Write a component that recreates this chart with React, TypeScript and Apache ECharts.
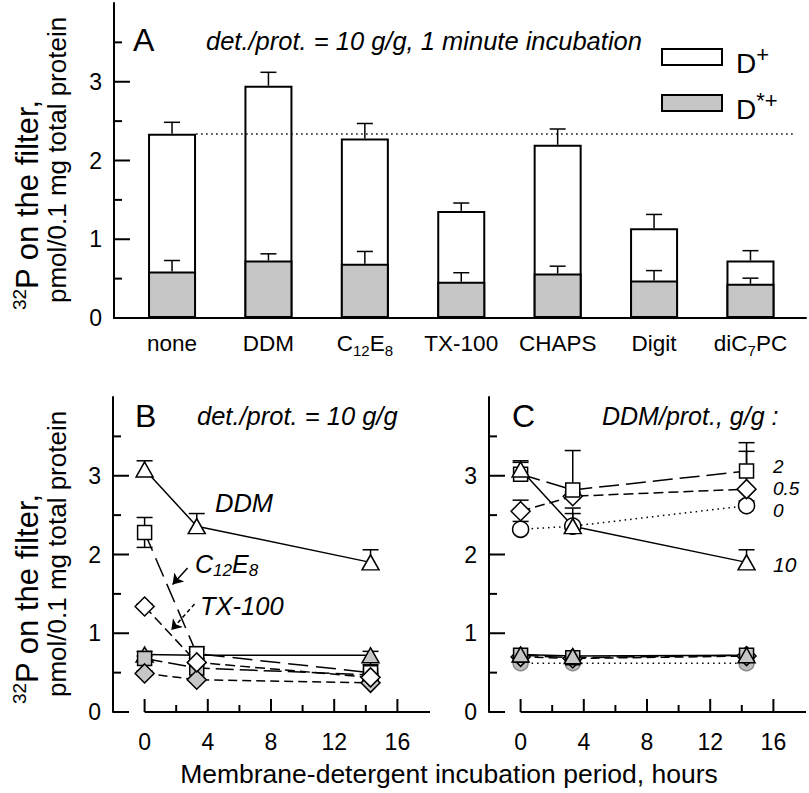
import React, { useEffect, useRef } from "react";
import * as echarts from "echarts";

const FONT = '"Liberation Sans", Arial, Helvetica, sans-serif';

// ---------- Panel A data ----------
const categories = ["none", "DDM", "C12E8", "TX-100", "CHAPS", "Digit", "diC7PC"];
const categoryLabels = ["{n|none}", "{n|DDM}", "{n|C}{s|12}{n|E}{s|8}", "{n|TX-100}", "{n|CHAPS}", "{n|Digit}", "{n|diC}{s|7}{n|PC}"];
const dPlusTotal = [2.34, 2.95, 2.28, 1.36, 2.2, 1.14, 0.73];
const dPlusErr = [0.145, 0.17, 0.19, 0.1, 0.2, 0.175, 0.125];
const dStarPlus = [0.59, 0.73, 0.69, 0.46, 0.565, 0.475, 0.435];
const dStarPlusErr = [0.14, 0.085, 0.155, 0.115, 0.093, 0.127, 0.071];
const referenceLevel = 2.34;

// ---------- Axis ticks ----------
const yTicks = [0, 1, 2, 3];
const yMinorTicks = [0.5, 1.5, 2.5, 3.5];
const xTicks = [0, 4, 8, 12, 16];
const xMinorTicks = [2, 6, 10, 14];

// ---------- Panels B and C ----------
const hours = [0, 3.3, 14.3];

// Panel B (det./prot. = 10 g/g)
const bDDM = [3.08, 2.36, 1.9];
const bDDMErr = [0.11, 0.16, 0.16];
const bC12E8 = [2.28, 0.74, 0.5];
const bC12E8Err = [0.19, 0.09, 0.1];
const bTX100 = [1.34, 0.63, 0.44];
const bTX100Err = [0.03, 0.05, 0.05];
const bDDMStar = [0.73, 0.72, 0.72];
const bDDMStarErr = [0.04, 0.08, 0.05];
const bC12E8Star = [0.68, 0.56, 0.47];
const bC12E8StarErr = [0.03, 0.06, 0.17];
const bTX100Star = [0.49, 0.41, 0.37];
const bTX100StarErr = [0.03, 0.03, 0.03];

// Panel C (DDM/prot., g/g)
const c10 = [3.08, 2.36, 1.9];
const c10Err = [0.11, 0.16, 0.16];
const c2 = [3.02, 2.82, 3.06];
const c2Err = [0.15, 0.5, 0.36];
const c05 = [2.55, 2.74, 2.83];
const c05Err = [0.14, 0.05, 0.48];
const c0 = [2.32, 2.36, 2.62];
const c0Err = [0.1, 0.23, 0.06];
const c10Star = [0.73, 0.71, 0.72];
const c2Star = [0.72, 0.69, 0.72];
const c05Star = [0.7, 0.68, 0.71];
const c0Star = [0.62, 0.62, 0.62];

const BLACK = "#000";
const GRAY = "#c6c6c6";

const A_XMIN = -0.602;
const A_XMAX = 6.576;
const BC_XMIN = -2;
const BC_XMAX = 18;

function errorSeries(xi: number, yi: number, xs: number[], ys: number[], errs: number[], capHalf: number, both: boolean, z: number) {
  return {
    type: "custom",
    xAxisIndex: xi,
    yAxisIndex: yi,
    z,
    silent: true,
    encode: { x: 0, y: 1 },
    data: xs.map((x, i) => [x, ys[i], errs[i]]),
    renderItem: (_p: any, api: any) => {
      const x = api.value(0);
      const y = api.value(1);
      const e = api.value(2);
      const top = api.coord([x, y + e]);
      const bot = api.coord([x, both ? y - e : y]);
      const st = { stroke: BLACK, lineWidth: 1.5 };
      const children: any[] = [
        { type: "line", shape: { x1: top[0], y1: top[1], x2: bot[0], y2: bot[1] }, style: st },
        { type: "line", shape: { x1: top[0] - capHalf, y1: top[1], x2: top[0] + capHalf, y2: top[1] }, style: st },
      ];
      if (both) children.push({ type: "line", shape: { x1: bot[0] - capHalf, y1: bot[1], x2: bot[0] + capHalf, y2: bot[1] }, style: st });
      return { type: "group", children };
    },
  };
}

// tick marks drawn through the axes' own scales
function tickSeries(xi: number, yi: number, dir: "x" | "y", vals: number[], at: number, len: number) {
  return {
    type: "custom",
    xAxisIndex: xi,
    yAxisIndex: yi,
    z: 6,
    silent: true,
    encode: { x: 0, y: 1 },
    data: vals.map((v) => (dir === "x" ? [v, at] : [at, v])),
    renderItem: (_p: any, api: any) => {
      const p = api.coord([api.value(0), api.value(1)]);
      const shape = dir === "x" ? { x1: p[0], y1: p[1], x2: p[0], y2: p[1] - len } : { x1: p[0], y1: p[1], x2: p[0] + len, y2: p[1] };
      return { type: "line", shape, style: { stroke: BLACK, lineWidth: 2 } };
    },
  };
}

function baselineSeries(xi: number, yi: number, from: number, to: number) {
  return {
    type: "custom",
    xAxisIndex: xi,
    yAxisIndex: yi,
    z: 6,
    silent: true,
    encode: { x: 0, y: 1 },
    data: [[from, 0, to]],
    renderItem: (_p: any, api: any) => {
      const a = api.coord([api.value(0), 0]);
      const b = api.coord([api.value(2), 0]);
      return { type: "line", shape: { x1: a[0], y1: a[1], x2: b[0] + 1, y2: b[1] }, style: { stroke: BLACK, lineWidth: 2 } };
    },
  };
}

function lineSeries(xi: number, yi: number, vals: number[], symbol: string, size: any, fill: string, dash: any, extra: any = {}) {
  return {
    type: "line",
    xAxisIndex: xi,
    yAxisIndex: yi,
    data: hours.map((h, i) => [h, vals[i]]),
    symbol,
    symbolSize: size,
    showAllSymbol: true,
    z: 3,
    itemStyle: { color: fill, borderColor: fill === "#fff" || fill === GRAY ? BLACK : "#8a8a8a", borderWidth: 1.5 },
    lineStyle: { color: BLACK, width: 1.5, type: dash },
    emphasis: { disabled: true },
    ...extra,
  };
}

function txt(x: number, y: number, text: string, o: any = {}) {
  const align = o.align || "left";
  return {
    type: "text",
    x,
    y,
    rotation: o.rotation || 0,
    silent: true,
    z: 10,
    style: {
      text,
      fill: BLACK,
      fontSize: o.fontSize || 24,
      fontFamily: FONT,
      fontStyle: o.italic ? "italic" : "normal",
      lineHeight: o.lineHeight,
      align,
      textAlign: align,
      verticalAlign: "middle",
      textVerticalAlign: "middle",
      rich: o.rich,
    },
  };
}

function yAxisFor(grid: number) {
  return {
    gridIndex: grid,
    type: "value",
    min: 0,
    max: 4,
    interval: 1,
    axisLine: { show: true, onZero: false, lineStyle: { color: BLACK, width: 2 } },
    axisTick: { show: false },
    axisLabel: { customValues: yTicks, color: BLACK, fontSize: 23, fontFamily: FONT, margin: 12 },
    splitLine: { show: false },
  };
}

function xAxisFor(grid: number) {
  return {
    gridIndex: grid,
    type: "value",
    min: BC_XMIN,
    max: BC_XMAX,
    axisLine: { show: false, onZero: false },
    axisTick: { show: false },
    axisLabel: { customValues: xTicks, color: BLACK, fontSize: 23, fontFamily: FONT, margin: 18 },
    splitLine: { show: false },
  };
}

const subRich = {
  n: { fontSize: 25, lineHeight: 30, fontFamily: FONT, fontStyle: "italic", fill: BLACK },
  s: { fontSize: 17, lineHeight: 30, fontFamily: FONT, fontStyle: "italic", fill: BLACK, verticalAlign: "bottom" },
};

const title1Rich = {
  sup: { fontSize: 19, lineHeight: 34, fontFamily: FONT, fill: BLACK, verticalAlign: "top" },
  t: { fontSize: 31, lineHeight: 34, fontFamily: FONT, fill: BLACK },
};
const title2Rich = {
  t: { fontSize: 26, lineHeight: 30, fontFamily: FONT, fill: BLACK },
};

const legRich = {
  d: { fontSize: 28, lineHeight: 34, fontFamily: FONT, fill: BLACK, verticalAlign: "bottom" },
  p: { fontSize: 22, lineHeight: 34, fontFamily: FONT, fill: BLACK, verticalAlign: "top" },
};

export default function App() {
  const ref = useRef<HTMLDivElement>(null);
  useEffect(() => {
    if (!ref.current) return;
    const chart = echarts.init(ref.current, undefined, { renderer: "svg" });
    const option: any = {
      animation: false,
      backgroundColor: "#fff",
      grid: [
        { left: 114, top: 3, width: 692, height: 315 },
        { left: 113, top: 397, width: 316, height: 315 },
        { left: 489, top: 397, width: 316, height: 315 },
      ],
      xAxis: [
        {
          gridIndex: 0,
          type: "value",
          min: A_XMIN,
          max: A_XMAX,
          axisLine: { show: true, onZero: false, lineStyle: { color: BLACK, width: 2 } },
          axisTick: { show: false },
          axisLabel: {
            customValues: categories.map((_, i) => i),
            formatter: (v: number) => categoryLabels[Math.round(v)],
            margin: 10,
            rich: {
              n: { fontSize: 22.5, lineHeight: 30, fontFamily: FONT, color: BLACK },
              s: { fontSize: 15, lineHeight: 30, fontFamily: FONT, color: BLACK, verticalAlign: "bottom" },
            },
          },
          splitLine: { show: false },
        },
        xAxisFor(1),
        xAxisFor(2),
      ],
      yAxis: [yAxisFor(0), yAxisFor(1), yAxisFor(2)],
      series: [
        {
          type: "bar",
          xAxisIndex: 0,
          yAxisIndex: 0,
          barWidth: 48,
          barGap: "-100%",
          data: categories.map((_, i) => [i, dPlusTotal[i]]),
          itemStyle: { color: "#fff", borderColor: BLACK, borderWidth: 2 },
          emphasis: { disabled: true },
          markLine: {
            silent: true,
            symbol: ["none", "none"],
            label: { show: false },
            lineStyle: { color: BLACK, width: 1.5, type: [1.5, 3.5] },
            data: [[{ coord: [0.25, referenceLevel] }, { coord: [6.46, referenceLevel] }]],
          },
        },
        {
          type: "bar",
          xAxisIndex: 0,
          yAxisIndex: 0,
          barWidth: 48,
          barGap: "-100%",
          data: categories.map((_, i) => [i, dStarPlus[i]]),
          itemStyle: { color: GRAY, borderColor: BLACK, borderWidth: 2 },
          emphasis: { disabled: true },
        },
        errorSeries(0, 0, categories.map((_, i) => i), dPlusTotal, dPlusErr, 8, false, 5),
        errorSeries(0, 0, categories.map((_, i) => i), dStarPlus, dStarPlusErr, 8, false, 5),
        tickSeries(0, 0, "y", yTicks, A_XMIN, 16),
        tickSeries(0, 0, "y", yMinorTicks, A_XMIN, 8),

        // Panel B axes marks
        tickSeries(1, 1, "y", yTicks, BC_XMIN, 16),
        tickSeries(1, 1, "y", yMinorTicks, BC_XMIN, 8),
        tickSeries(1, 1, "x", xTicks, 0, 13),
        tickSeries(1, 1, "x", xMinorTicks, 0, 7),
        baselineSeries(1, 1, 0, BC_XMAX),
        // Panel B error bars
        errorSeries(1, 1, hours, bDDM, bDDMErr, 8, false, 1),
        errorSeries(1, 1, hours, bC12E8, bC12E8Err, 8, true, 1),
        errorSeries(1, 1, hours, bTX100, bTX100Err, 8, false, 1),
        errorSeries(1, 1, hours, bDDMStar, bDDMStarErr, 8, false, 1),
        errorSeries(1, 1, hours, bC12E8Star, bC12E8StarErr, 8, false, 1),
        errorSeries(1, 1, hours, bTX100Star, bTX100StarErr, 8, false, 1),
        // Panel B lines
        lineSeries(1, 1, bDDMStar, "triangle", [17, 15], GRAY, "solid"),
        lineSeries(1, 1, bC12E8Star, "rect", [14, 14], GRAY, [18, 6]),
        lineSeries(1, 1, bTX100Star, "diamond", [19, 19], GRAY, [9, 5]),
        lineSeries(1, 1, bDDM, "triangle", [17, 15], "#fff", "solid"),
        lineSeries(1, 1, bC12E8, "rect", [14, 14], "#fff", [20, 8], {
          markLine: {
            silent: true,
            symbol: ["none", "arrow"],
            symbolSize: 10,
            label: { show: false },
            lineStyle: { color: BLACK, width: 1.5, type: "solid" },
            data: [
              [{ coord: [2.72, 1.83], lineStyle: { type: "solid" } }, { coord: [1.77, 1.62] }],
              [{ coord: [3.16, 1.37], lineStyle: { type: [4, 3] } }, { coord: [1.69, 1.04] }],
            ],
          },
        }),
        lineSeries(1, 1, bTX100, "diamond", [19, 19], "#fff", [10, 5]),

        // Panel C axes marks
        tickSeries(2, 2, "y", yTicks, BC_XMIN, 16),
        tickSeries(2, 2, "y", yMinorTicks, BC_XMIN, 8),
        tickSeries(2, 2, "x", xTicks, 0, 13),
        tickSeries(2, 2, "x", xMinorTicks, 0, 7),
        baselineSeries(2, 2, 0, BC_XMAX),
        // Panel C error bars
        errorSeries(2, 2, hours, c10, c10Err, 8, false, 1),
        errorSeries(2, 2, hours, c2, c2Err, 8, false, 1),
        errorSeries(2, 2, hours, c05, c05Err, 8, false, 1),
        errorSeries(2, 2, hours, c0, c0Err, 8, false, 1),
        // Panel C lines
        lineSeries(2, 2, c0Star, "circle", 15, "#bdbdbd", [1.5, 4]),
        lineSeries(2, 2, c05Star, "diamond", [19, 19], GRAY, [9, 5]),
        lineSeries(2, 2, c2Star, "rect", [14, 14], GRAY, [18, 6]),
        lineSeries(2, 2, c10Star, "triangle", [17, 15], GRAY, "solid"),
        lineSeries(2, 2, c0, "circle", 16, "#fff", [1.5, 4]),
        lineSeries(2, 2, c05, "diamond", [19, 19], "#fff", [10, 5]),
        lineSeries(2, 2, c2, "rect", [14, 14], "#fff", [20, 7]),
        lineSeries(2, 2, c10, "triangle", [17, 15], "#fff", "solid"),
      ],
      graphic: [
        // Panel A
        txt(133, 40, "A", { fontSize: 32 }),
        txt(206, 41, "det./prot. = 10 g/g, 1 minute incubation", { italic: true, fontSize: 25.5 }),
        { type: "rect", shape: { x: 662, y: 49, width: 60, height: 16 }, style: { fill: "#fff", stroke: BLACK, lineWidth: 2 }, z: 10 },
        { type: "rect", shape: { x: 662, y: 95, width: 60, height: 16 }, style: { fill: GRAY, stroke: BLACK, lineWidth: 2 }, z: 10 },
        txt(736, 60, "{d|D}{p|+}", { rich: legRich }),
        txt(736, 106, "{d|D}{p|*+}", { rich: legRich }),
        txt(27, 310, "{sup|32}{t|P on the filter,}", { rotation: Math.PI / 2, rich: title1Rich }),
        txt(57, 303, "{t|pmol/0.1 mg total protein}", { rotation: Math.PI / 2, rich: title2Rich }),
        // Panel B
        txt(135, 416, "B", { fontSize: 32 }),
        txt(197, 416, "det./prot. = 10 g/g", { italic: true, fontSize: 25.5 }),
        txt(215, 503, "DDM", { italic: true, fontSize: 25.5 }),
        txt(195, 564, "{n|C}{s|12}{n|E}{s|8}", { rich: subRich }),
        txt(200, 606, "TX-100", { italic: true, fontSize: 25.5 }),
        txt(27, 704, "{sup|32}{t|P on the filter,}", { rotation: Math.PI / 2, rich: title1Rich }),
        txt(57, 697, "{t|pmol/0.1 mg total protein}", { rotation: Math.PI / 2, rich: title2Rich }),
        // Panel C
        txt(512, 416, "C", { fontSize: 32 }),
        txt(602, 416, "DDM/prot., g/g :", { italic: true, fontSize: 25 }),
        txt(773, 466, "2", { italic: true, fontSize: 19, lineHeight: 20 }),
        txt(773, 488, "0.5", { italic: true, fontSize: 19, lineHeight: 20 }),
        txt(773, 510, "0", { italic: true, fontSize: 19, lineHeight: 20 }),
        txt(773, 564, "10", { italic: true, fontSize: 21, lineHeight: 22 }),
        // Shared x title
        txt(449, 774, "Membrane-detergent incubation period, hours", { align: "center", fontSize: 26.5 }),
      ],
    };
    chart.setOption(option);
    return () => chart.dispose();
  }, []);
  return (
    <div
      ref={ref}
      style={{ position: "fixed", left: 0, top: 0, width: 809, height: 793, background: "#fff" }}
    />
  );
}
